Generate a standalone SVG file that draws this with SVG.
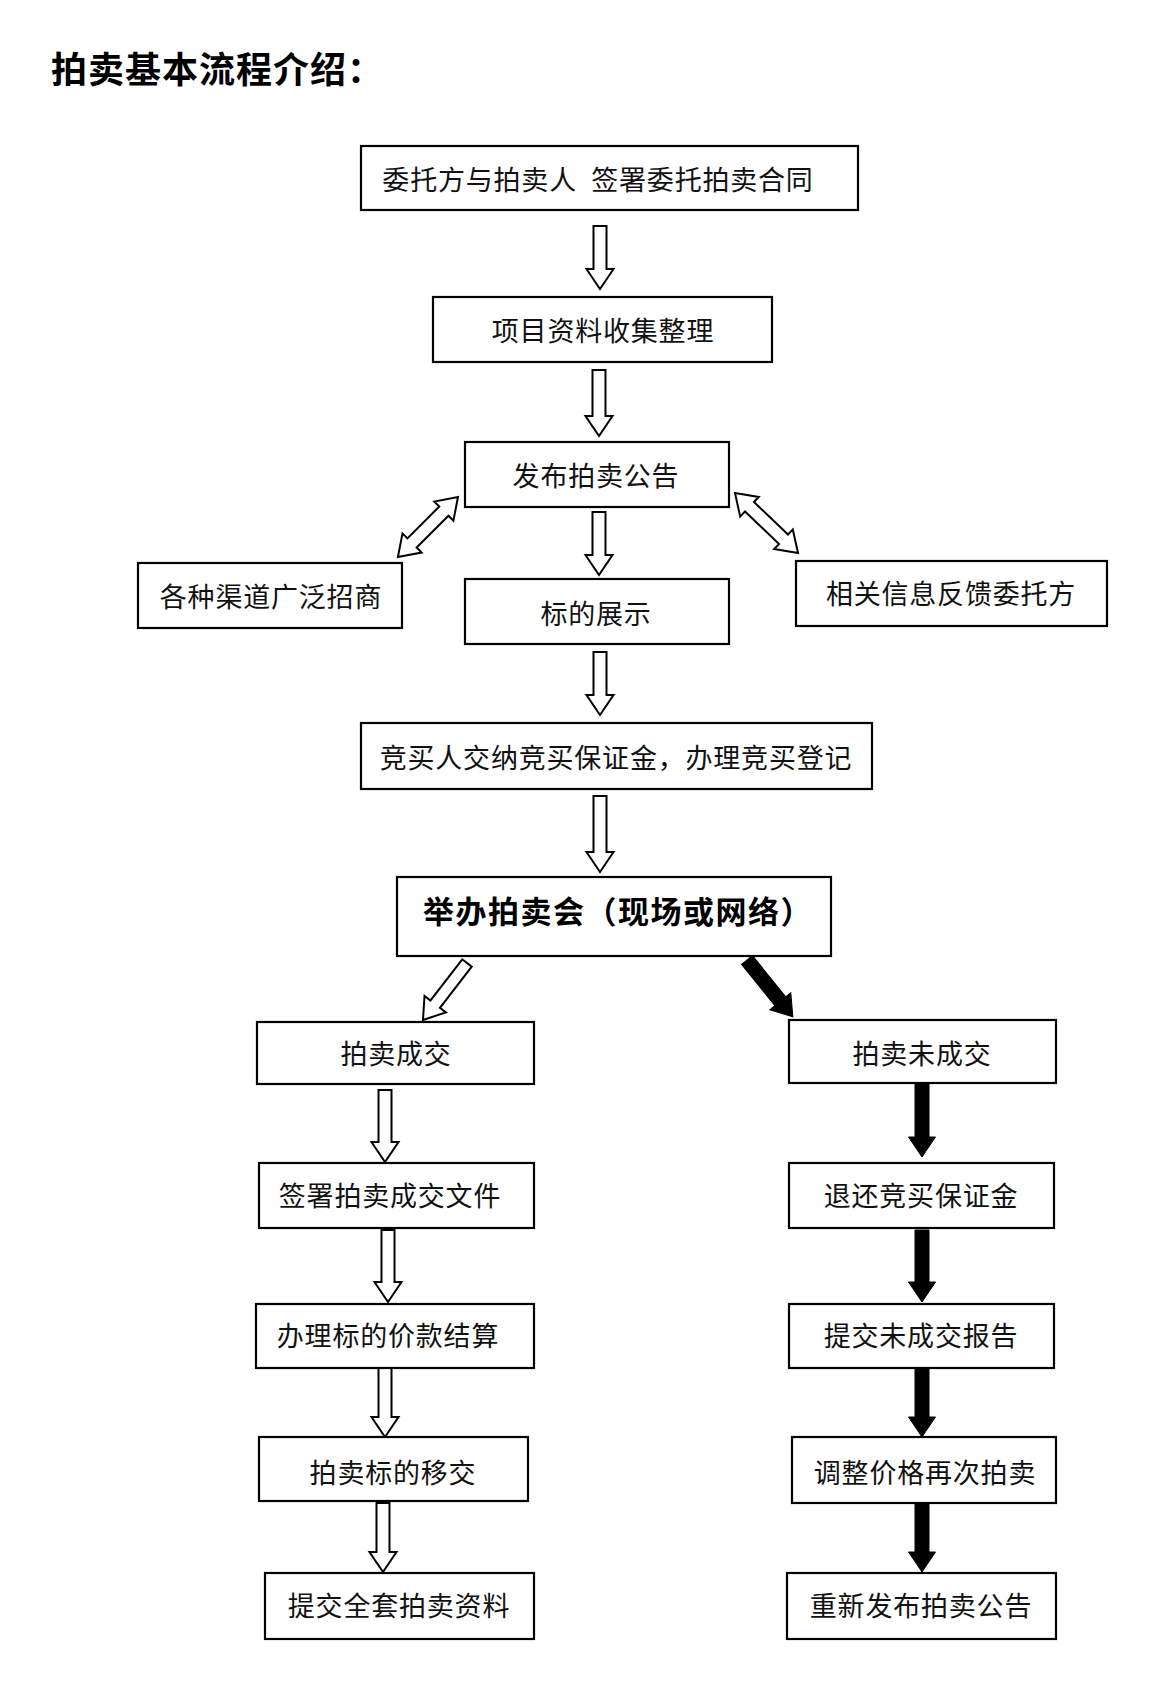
<svg xmlns="http://www.w3.org/2000/svg" width="1155" height="1694" viewBox="0 0 1155 1694">
<style>
.box{fill:#fff;stroke:#000;stroke-width:2.2}
.t{font-family:"Noto Sans CJK SC","Noto Sans CJK JP",sans-serif;font-size:27px;letter-spacing:0.8px;fill:#111;text-anchor:middle;dominant-baseline:central}
.title{font-family:"Noto Sans CJK SC","Noto Sans CJK JP",sans-serif;font-size:36px;font-weight:bold;letter-spacing:1px;fill:#000;dominant-baseline:central}
.bt{font-family:"Noto Sans CJK SC","Noto Sans CJK JP",sans-serif;font-size:31px;font-weight:bold;letter-spacing:1.5px;fill:#000;dominant-baseline:central}
.ha{fill:#fff;stroke:#000;stroke-width:2;stroke-linejoin:miter}
.ba{fill:#000;stroke:#000;stroke-width:1}
</style>
<rect width="1155" height="1694" fill="#fff"/>
<text class="title" x="51" y="67">拍卖基本流程介绍：</text>

<g id="connectors">
  <path class="ha" transform="translate(600,226) rotate(90)" d="M0,-6.5 H43 V-13.5 L63,0 L43,13.5 V6.5 H0 Z"/>
  <path class="ha" transform="translate(599,370) rotate(90)" d="M0,-6.5 H46 V-13.5 L66,0 L46,13.5 V6.5 H0 Z"/>
  <path class="ha" transform="translate(599,512) rotate(90)" d="M0,-6.5 H43 V-13.5 L63,0 L43,13.5 V6.5 H0 Z"/>
  <path class="ha" transform="translate(600,652) rotate(90)" d="M0,-6.5 H43 V-13.5 L63,0 L43,13.5 V6.5 H0 Z"/>
  <path class="ha" transform="translate(600,796) rotate(90)" d="M0,-6.5 H56 V-13.5 L76,0 L56,13.5 V6.5 H0 Z"/>
  <path class="ha" transform="translate(458,497) rotate(135)" d="M0,0 L20,-13.5 V-6.5 H65 V-13.5 L85,0 L65,13.5 V6.5 H20 V13.5 Z"/>
  <path class="ha" transform="translate(735,493) rotate(43.6)" d="M0,0 L20,-13.5 V-6.5 H67 V-13.5 L87,0 L67,13.5 V6.5 H20 V13.5 Z"/>
  <path class="ha" transform="translate(467,963) rotate(127.7)" d="M0,-6 H52 V-13.5 L72,0 L52,13.5 V6 H0 Z"/>
  <path class="ba" transform="translate(747,960) rotate(51.1)" d="M0,-7 H53 V-13.5 L73,0 L53,13.5 V7 H0 Z"/>
  <path class="ha" transform="translate(385,1090) rotate(90)" d="M0,-6.5 H52 V-13.5 L72,0 L52,13.5 V6.5 H0 Z"/>
  <path class="ha" transform="translate(388,1230) rotate(90)" d="M0,-6.5 H52 V-13.5 L72,0 L52,13.5 V6.5 H0 Z"/>
  <path class="ha" transform="translate(385,1367) rotate(90)" d="M0,-6.5 H50 V-13.5 L70,0 L50,13.5 V6.5 H0 Z"/>
  <path class="ha" transform="translate(383,1503) rotate(90)" d="M0,-6.5 H49 V-13.5 L69,0 L49,13.5 V6.5 H0 Z"/>
  <path class="ba" transform="translate(922,1084) rotate(90)" d="M0,-7 H53 V-13.5 L73,0 L53,13.5 V7 H0 Z"/>
  <path class="ba" transform="translate(922,1230) rotate(90)" d="M0,-7 H52 V-13.5 L72,0 L52,13.5 V7 H0 Z"/>
  <path class="ba" transform="translate(922,1368) rotate(90)" d="M0,-7 H49 V-13.5 L69,0 L49,13.5 V7 H0 Z"/>
  <path class="ba" transform="translate(922,1503) rotate(90)" d="M0,-7 H49 V-13.5 L69,0 L49,13.5 V7 H0 Z"/>
</g>

<g id="n1"><rect class="box" x="361" y="146" width="497" height="64"/><text class="t" x="598" y="178">委托方与拍卖人&#8194;签署委托拍卖合同</text></g>
<g id="n2"><rect class="box" x="433" y="297" width="339" height="65"/><text class="t" x="603" y="329">项目资料收集整理</text></g>
<g id="n3"><rect class="box" x="465" y="442" width="264" height="65"/><text class="t" x="596" y="474">发布拍卖公告</text></g>
<g id="n4"><rect class="box" x="138" y="563" width="264" height="65"/><text class="t" x="271" y="595">各种渠道广泛招商</text></g>
<g id="n5"><rect class="box" x="465" y="579" width="264" height="65"/><text class="t" x="596" y="612">标的展示</text></g>
<g id="n6"><rect class="box" x="796" y="561" width="311" height="65"/><text class="t" x="951" y="592">相关信息反馈委托方</text></g>
<g id="n7"><rect class="box" x="361" y="723" width="511" height="66"/><text class="t" x="616" y="756">竞买人交纳竞买保证金，办理竞买登记</text></g>
<g id="n8"><rect class="box" x="397" y="877" width="434" height="79"/><text class="bt" x="423" y="909">举办拍卖会（现场或网络）</text></g>
<g id="n9"><rect class="box" x="257" y="1022" width="277" height="62"/><text class="t" x="396" y="1052">拍卖成交</text></g>
<g id="n10"><rect class="box" x="789" y="1020" width="267" height="63"/><text class="t" x="922" y="1052">拍卖未成交</text></g>
<g id="n11"><rect class="box" x="259" y="1163" width="275" height="65"/><text class="t" x="390" y="1194">签署拍卖成交文件</text></g>
<g id="n12"><rect class="box" x="789" y="1163" width="265" height="65"/><text class="t" x="921" y="1194">退还竞买保证金</text></g>
<g id="n13"><rect class="box" x="256" y="1304" width="278" height="64"/><text class="t" x="388" y="1334">办理标的价款结算</text></g>
<g id="n14"><rect class="box" x="789" y="1304" width="265" height="64"/><text class="t" x="921" y="1334">提交未成交报告</text></g>
<g id="n15"><rect class="box" x="259" y="1437" width="269" height="64"/><text class="t" x="393" y="1471">拍卖标的移交</text></g>
<g id="n16"><rect class="box" x="792" y="1437" width="264" height="66"/><text class="t" x="925" y="1471">调整价格再次拍卖</text></g>
<g id="n17"><rect class="box" x="265" y="1573" width="269" height="66"/><text class="t" x="399" y="1604">提交全套拍卖资料</text></g>
<g id="n18"><rect class="box" x="787" y="1573" width="269" height="66"/><text class="t" x="921" y="1604">重新发布拍卖公告</text></g>
</svg>
